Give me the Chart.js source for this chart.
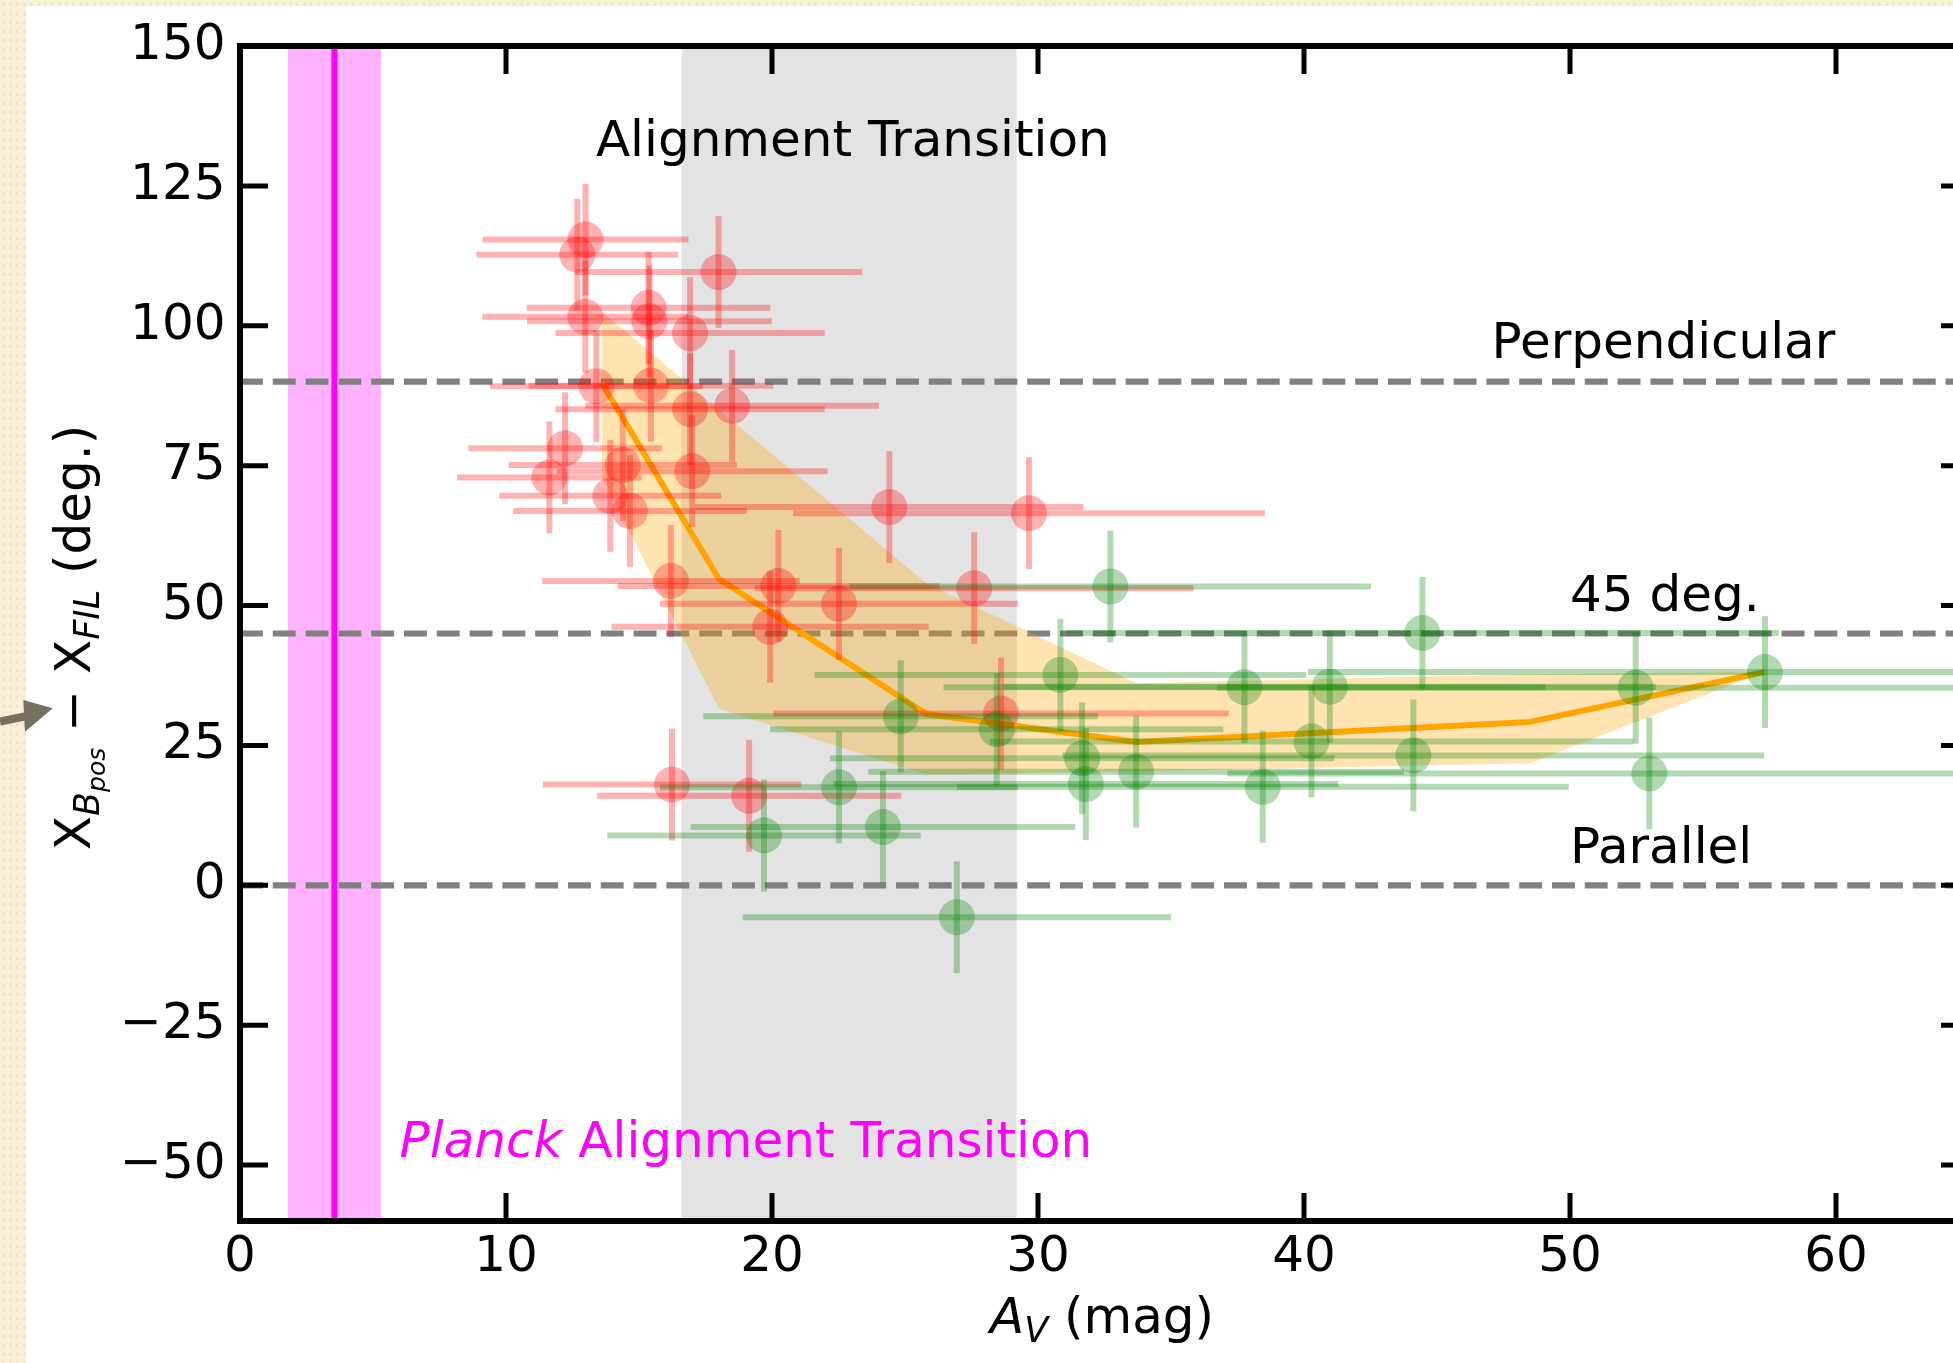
<!DOCTYPE html>
<html>
<head>
<meta charset="utf-8">
<script src="https://cdn.jsdelivr.net/npm/chart.js@4.4.0/dist/chart.umd.min.js"></script>
<style>
  html, body { margin: 0; padding: 0; overflow: hidden; }
  body {
    width: 1953px; height: 1363px; position: relative;
    background-color: #f8efd6;
    background-image:
      radial-gradient(rgba(226, 206, 160, 0.35) 1px, transparent 2px),
      radial-gradient(rgba(255, 250, 235, 0.5) 1px, transparent 2px);
    background-size: 7px 9px, 11px 6px;
    background-position: 0 0, 3px 4px;
  }
  #panel { position: absolute; left: 26px; top: 6px; width: 1927px; height: 1357px; background: #fff; overflow: hidden; }
  #panel canvas { position: absolute; left: 0; top: 0; }
  #pointer { position: absolute; left: 0; top: 0; pointer-events: none; }
</style>
</head>
<body>
<div id="panel"><canvas id="angleChart" width="1964" height="1357"></canvas></div>
<svg id="pointer" width="60" height="760">
  <line x1="0" y1="721.5" x2="27" y2="716" stroke="#77705e" stroke-width="8"/>
  <polygon points="52.7,708.3 23.3,700 25,731.7" fill="#77705e"/>
</svg>
<script>
// cores below the transition (red) and above it (green)
const redAv       = [12.99, 12.68, 17.99, 12.98, 15.36, 15.39, 16.92, 13.40, 15.45, 16.92, 18.50, 17.00, 12.22, 11.63,
                     14.39, 13.92, 14.66, 24.41, 29.66, 16.20, 20.24, 19.93, 22.52, 27.60, 28.61, 16.24, 19.14];
const redAngle    = [115.4, 112.7, 109.6, 101.6, 103.2, 100.8, 98.7, 89.2, 89.3, 85.1, 85.7, 74.0, 78.1, 72.9,
                     75.1, 69.6, 66.9, 67.6, 66.5, 54.4, 53.5, 46.2, 50.3, 53.1, 30.7, 18.0, 16.0];
const redAvErr    = [3.87, 3.79, 5.39, 3.87, 4.58, 4.60, 5.06, 4.00, 4.60, 5.06, 5.52, 5.09, 3.64, 3.47,
                     4.29, 4.17, 4.39, 7.30, 8.87, 4.84, 6.05, 5.96, 6.73, 8.25, 8.56, 4.86, 5.72];
const redAngleErr = [10, 10, 10, 10, 10, 10, 10, 10, 10, 10, 10, 10, 10, 10,
                     10, 10, 10, 10, 10, 10, 10, 10, 10, 10, 10, 10, 10];

const greenAv       = [19.70, 22.52, 24.17, 24.84, 26.95, 32.72, 30.84, 28.45, 31.66, 31.80,
                       33.69, 37.76, 40.97, 52.47, 44.45, 38.45, 40.28, 44.11, 52.98, 57.33];
const greenAngle    = [8.9, 17.5, 10.4, 30.2, -5.7, 53.4, 37.6, 27.9, 22.7, 18.1,
                       20.3, 35.4, 35.5, 35.3, 45.1, 17.6, 25.7, 23.2, 20.0, 38.1];
const greenAvErr    = [5.89, 6.73, 7.23, 7.42, 8.05, 9.80, 9.24, 8.52, 9.48, 9.49,
                       10.07, 11.31, 12.27, 15.75, 13.40, 11.50, 12.10, 13.19, 15.86, 17.18];
const greenAngleErr = [10, 10, 10, 10, 10, 10, 10, 10, 10, 10,
                       10, 10, 10, 10, 10, 10, 10, 10, 10, 10];

// binned trend and its spread
const binAv     = [13.6, 18.0, 20.5, 25.8, 33.7, 48.5, 57.3];
const binMedian = [89.8, 54.8, 47.0, 30.6, 25.6, 29.2, 38.1];
const binHigh   = [102.5, 85.0, 75.1, 54.0, 36.1, 37.7, 38.1];
const binLow    = [73.0, 31.6, 27.8, 19.8, 20.4, 21.8, 38.1];

const xTicks = [0, 10, 20, 30, 40, 50, 60];
const yTicks = [-50, -25, 0, 25, 50, 75, 100, 125, 150];
const refAngles = [0, 45, 90];
const planckBand = [1.8, 5.3];
const planckAv = 3.55;
const transitionBand = [16.6, 29.2];

const FONT = '"DejaVu Sans"';
const SIZE = 50;
Chart.defaults.font.family = FONT;

function pts(xs, ys) {
  return xs.map((v, i) => ({ x: v, y: ys[i] }));
}

function fmtTick(v) {
  return v < 0 ? '\u2212' + Math.abs(v) : String(v);
}

// text made of runs with their own font and baseline shift
function drawRuns(ctx, runs, x, y, align) {
  let total = 0;
  runs.forEach(r => { ctx.font = r.font; r.w = ctx.measureText(r.text).width; total += r.w; });
  let cx = align === 'center' ? x - total / 2 : x;
  runs.forEach(r => { ctx.font = r.font; ctx.fillText(r.text, cx, y + (r.dy || 0)); cx += r.w; });
}

const decorations = {
  id: 'decorations',
  beforeDatasetsDraw(chart) {
    const { ctx, chartArea: a, scales: { x, y } } = chart;
    ctx.save();
    ctx.beginPath();
    ctx.rect(a.left, a.top, a.width, a.height);
    ctx.clip();

    const t0 = x.getPixelForValue(transitionBand[0]);
    const t1 = x.getPixelForValue(transitionBand[1]);
    ctx.fillStyle = 'rgba(128,128,128,0.22)';
    ctx.fillRect(t0, a.top, t1 - t0, a.height);

    const p0 = x.getPixelForValue(planckBand[0]);
    const p1 = x.getPixelForValue(planckBand[1]);
    ctx.fillStyle = 'rgba(255,0,255,0.3)';
    ctx.fillRect(p0, a.top, p1 - p0, a.height);

    ctx.strokeStyle = '#808080';
    ctx.lineWidth = 6.2;
    ctx.setLineDash([22.9, 9.9]);
    refAngles.forEach(v => {
      const py = y.getPixelForValue(v);
      ctx.beginPath();
      ctx.moveTo(a.left, py);
      ctx.lineTo(a.right, py);
      ctx.stroke();
    });
    ctx.setLineDash([]);

    const pm = x.getPixelForValue(planckAv);
    ctx.strokeStyle = '#ff00ff';
    ctx.lineWidth = 6;
    ctx.beginPath();
    ctx.moveTo(pm, a.top);
    ctx.lineTo(pm, a.bottom);
    ctx.stroke();
    ctx.restore();
  },
  beforeDatasetDraw(chart, args) {
    const ds = chart.data.datasets[args.index];
    if (!ds.xErr) return;
    const { ctx, chartArea: a, scales: { x, y } } = chart;
    ctx.save();
    ctx.beginPath();
    ctx.rect(a.left, a.top, a.width, a.height);
    ctx.clip();
    ctx.strokeStyle = ds.errColor;
    ctx.lineWidth = 6;
    ds.data.forEach((p, i) => {
      const px = x.getPixelForValue(p.x), py = y.getPixelForValue(p.y);
      ctx.beginPath();
      ctx.moveTo(x.getPixelForValue(p.x - ds.xErr[i]), py);
      ctx.lineTo(x.getPixelForValue(p.x + ds.xErr[i]), py);
      ctx.stroke();
      ctx.beginPath();
      ctx.moveTo(px, y.getPixelForValue(p.y - ds.yErr[i]));
      ctx.lineTo(px, y.getPixelForValue(p.y + ds.yErr[i]));
      ctx.stroke();
    });
    ctx.restore();
  },
  afterDatasetsDraw(chart) {
    const { ctx, scales: { x, y } } = chart;
    ctx.save();
    ctx.textAlign = 'left';
    ctx.textBaseline = 'alphabetic';
    ctx.fillStyle = '#000';
    ctx.font = SIZE + 'px ' + FONT;
    const labels = [
      ['Alignment Transition', 13.38, 130.3],
      ['Perpendicular', 47.05, 94.2],
      ['45 deg.', 50, 49],
      ['Parallel', 50, 3.9]
    ];
    labels.forEach(([t, lx, ly]) => ctx.fillText(t, x.getPixelForValue(lx), y.getPixelForValue(ly)));
    ctx.fillStyle = '#ff00ff';
    drawRuns(ctx, [
      { text: 'Planck', font: 'italic ' + SIZE + 'px ' + FONT },
      { text: ' Alignment Transition', font: SIZE + 'px ' + FONT }
    ], x.getPixelForValue(6.0), y.getPixelForValue(-48.5), 'left');
    ctx.restore();
  },
  afterDraw(chart) {
    const { ctx, chartArea: a, scales: { x, y } } = chart;
    ctx.save();
    ctx.strokeStyle = '#000';
    ctx.lineWidth = 5;
    const tick = 28;
    xTicks.forEach(v => {
      const px = x.getPixelForValue(v);
      ctx.beginPath();
      ctx.moveTo(px, a.bottom); ctx.lineTo(px, a.bottom - tick);
      ctx.moveTo(px, a.top); ctx.lineTo(px, a.top + tick);
      ctx.stroke();
    });
    yTicks.forEach(v => {
      const py = y.getPixelForValue(v);
      ctx.beginPath();
      ctx.moveTo(a.left, py); ctx.lineTo(a.left + tick, py);
      ctx.moveTo(a.right, py); ctx.lineTo(a.right - tick, py);
      ctx.stroke();
    });
    ctx.lineWidth = 6;
    ctx.strokeRect(a.left, a.top, a.width, a.height);

    // axis titles with subscripts
    ctx.fillStyle = '#000';
    ctx.textBaseline = 'alphabetic';
    drawRuns(ctx, [
      { text: 'A', font: 'italic ' + SIZE + 'px ' + FONT },
      { text: 'V', font: 'italic 35px ' + FONT, dy: 9 },
      { text: ' (mag)', font: SIZE + 'px ' + FONT }
    ], 1076, a.bottom + 112, 'center');

    ctx.translate(a.left - 150, (a.top + a.bottom) / 2 + 4);
    ctx.rotate(-Math.PI / 2);
    drawRuns(ctx, [
      { text: 'X', font: SIZE + 'px ' + FONT },
      { text: 'B', font: 'italic 35px ' + FONT, dy: 9 },
      { text: 'pos', font: 'italic 25px ' + FONT, dy: 15 },
      { text: ' \u2212 ', font: SIZE + 'px ' + FONT },
      { text: 'X', font: SIZE + 'px ' + FONT },
      { text: 'FIL', font: 'italic 35px ' + FONT, dy: 9 },
      { text: ' (deg.)', font: SIZE + 'px ' + FONT }
    ], 0, 0, 'center');
    ctx.restore();
  }
};

new Chart(document.getElementById('angleChart'), {
  type: 'scatter',
  data: {
    datasets: [
      {
        type: 'line', label: 'high', data: pts(binAv, binHigh),
        borderWidth: 0, pointRadius: 0, fill: '+1',
        backgroundColor: 'rgba(255,165,0,0.3)', order: 4
      },
      {
        type: 'line', label: 'low', data: pts(binAv, binLow),
        borderWidth: 0, pointRadius: 0, fill: false, order: 5
      },
      {
        type: 'line', label: 'median', data: pts(binAv, binMedian),
        borderColor: '#ffa500', borderWidth: 6, borderJoinStyle: 'round',
        pointRadius: 0, fill: false, tension: 0, order: 3
      },
      {
        label: 'red', data: pts(redAv, redAngle),
        xErr: redAvErr, yErr: redAngleErr, errColor: 'rgba(255,0,0,0.3)',
        pointRadius: 18, pointBorderWidth: 0, backgroundColor: 'rgba(255,0,0,0.3)', order: 2
      },
      {
        label: 'green', data: pts(greenAv, greenAngle),
        xErr: greenAvErr, yErr: greenAngleErr, errColor: 'rgba(0,128,0,0.3)',
        pointRadius: 18, pointBorderWidth: 0, backgroundColor: 'rgba(0,128,0,0.3)', order: 1
      }
    ]
  },
  options: {
    responsive: false,
    animation: false,
    events: [],
    layout: { padding: { top: 40, right: 21, left: 0, bottom: 0 } },
    plugins: { legend: { display: false }, tooltip: { enabled: false } },
    scales: {
      x: {
        type: 'linear', position: 'bottom', min: 0, max: 65,
        afterBuildTicks: s => { s.ticks = xTicks.map(v => ({ value: v })); },
        afterFit: s => { s.height = 142; s.paddingLeft = 0; s.paddingRight = 0; },
        grid: { display: false, drawTicks: false },
        border: { display: false },
        ticks: { padding: 7, color: '#000', font: { size: SIZE }, maxRotation: 0, autoSkip: false, callback: fmtTick }
      },
      y: {
        type: 'linear', position: 'left', min: -60, max: 150,
        afterBuildTicks: s => { s.ticks = yTicks.map(v => ({ value: v })); },
        afterFit: s => { s.width = 214; s.paddingTop = 0; s.paddingBottom = 0; },
        grid: { display: false, drawTicks: false },
        border: { display: false },
        ticks: { padding: 14.5, color: '#000', font: { size: SIZE }, autoSkip: false, callback: fmtTick }
      }
    }
  },
  plugins: [decorations]
});
</script>
</body>
</html>
